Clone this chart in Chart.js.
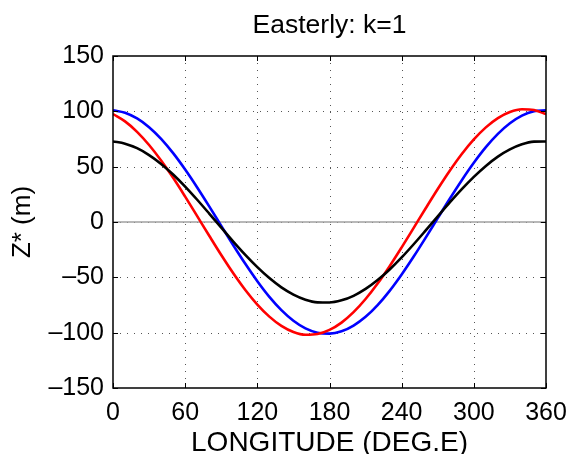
<!DOCTYPE html>
<html lang="en">
<head>
  <meta charset="UTF-8" />
  <title>Easterly: k=1</title>
  <script src="https://cdn.jsdelivr.net/npm/chart.js"></script>
  <style>
    html, body { margin: 0; padding: 0; background: #fff; }
    #wrap { width: 569px; height: 454px; }
  </style>
</head>
<body>
  <div id="wrap"><canvas id="chart" width="569" height="454"></canvas></div>

  <script>
    // longitude (deg E), every 10 degrees
    const lon = [0, 10, 20, 30, 40, 50, 60, 70, 80, 90, 100, 110, 120, 130, 140, 150, 160, 170, 180,
                 190, 200, 210, 220, 230, 240, 250, 260, 270, 280, 290, 300, 310, 320, 330, 340, 350, 360];

    // Z* (m)
    const blueZ = [101, 98.8, 93.6, 85.7, 75.1, 62.2, 47.4, 31.2, 14.1, -3.5, -21, -37.8, -53.5, -67.6, -79.6, -89.2, -96.1, -100, -100.9,
                   -98.8, -93.6, -85.7, -75.1, -62.2, -47.4, -31.2, -14.1, 3.5, 21, 37.8, 53.5, 67.6, 79.6, 89.2, 96.1, 100, 101];
    const redZ = [97.5, 90.9, 81.5, 69.6, 55.6, 39.9, 22.9, 5.3, -12.4, -29.8, -46.3, -61.4, -74.6, -85.5, -93.9, -99.4, -101.9, -101.2, -97.5,
                  -90.9, -81.5, -69.6, -55.6, -39.9, -22.9, -5.3, 12.4, 29.8, 46.3, 61.4, 74.6, 85.5, 93.9, 99.4, 101.9, 101.2, 97.5];
    const blackZ = [72.8, 70.8, 66.7, 60.5, 52.5, 42.9, 32, 20.1, 7.6, -5.1, -17.7, -29.7, -40.8, -50.7, -59.1, -65.6, -70.2, -72.6, -72.8,
                    -70.8, -66.7, -60.5, -52.5, -42.9, -32, -20.1, -7.6, 5.1, 17.7, 29.7, 40.8, 50.7, 59.1, 65.6, 70.2, 72.6, 72.8];

    const xTicks = [0, 60, 120, 180, 240, 300, 360];
    const yTicks = [-150, -100, -50, 0, 50, 100, 150];
    const zeroLine = [0, 0];
    const zeroLon = [0, 360];

    const FONT = "'Liberation Sans', Arial, Helvetica, sans-serif";

    const toPts = (xs, ys) => xs.map((x, i) => ({ x: x, y: ys[i] }));

    // matlab-style box: dotted grid, inward ticks, black frame, title
    const boxPlugin = {
      id: "box",
      beforeDatasetsDraw(chart) {
        const ctx = chart.ctx;
        const a = chart.chartArea;
        const xs = chart.scales.x, ys = chart.scales.y;
        ctx.save();
        ctx.strokeStyle = "#555";
        ctx.lineWidth = 1;
        ctx.setLineDash([1, 6]);
        xTicks.slice(1, -1).forEach(v => {
          const px = Math.round(xs.getPixelForValue(v)) + 0.5;
          ctx.beginPath(); ctx.moveTo(px, a.top); ctx.lineTo(px, a.bottom); ctx.stroke();
        });
        yTicks.slice(1, -1).forEach(v => {
          const py = Math.round(ys.getPixelForValue(v)) + 0.5;
          ctx.beginPath(); ctx.moveTo(a.left, py); ctx.lineTo(a.right, py); ctx.stroke();
        });
        ctx.restore();
      },
      afterDatasetsDraw(chart) {
        const ctx = chart.ctx;
        const a = chart.chartArea;
        const xs = chart.scales.x, ys = chart.scales.y;
        ctx.save();
        ctx.strokeStyle = "#000";
        ctx.lineWidth = 1.5;
        ctx.strokeRect(a.left, a.top, a.right - a.left, a.bottom - a.top);
        ctx.lineWidth = 1;
        const t = 5;
        xTicks.forEach(v => {
          const px = Math.round(xs.getPixelForValue(v)) + 0.5;
          ctx.beginPath();
          ctx.moveTo(px, a.bottom); ctx.lineTo(px, a.bottom - t);
          ctx.moveTo(px, a.top); ctx.lineTo(px, a.top + t);
          ctx.stroke();
        });
        yTicks.forEach(v => {
          const py = Math.round(ys.getPixelForValue(v)) + 0.5;
          ctx.beginPath();
          ctx.moveTo(a.left, py); ctx.lineTo(a.left + t, py);
          ctx.moveTo(a.right, py); ctx.lineTo(a.right - t, py);
          ctx.stroke();
        });
        ctx.fillStyle = "#000";
        ctx.font = "26.5px " + FONT;
        ctx.textAlign = "center";
        ctx.textBaseline = "middle";
        ctx.fillText("Easterly: k=1", (a.left + a.right) / 2, 26);
        ctx.restore();
      }
    };

    const ctx = document.getElementById("chart").getContext("2d");
    new Chart(ctx, {
      type: "line",
      data: {
        datasets: [
          { label: "black", data: toPts(lon, blackZ), borderColor: "#000", borderWidth: 2.6 },
          { label: "red", data: toPts(lon, redZ), borderColor: "#ff0000", borderWidth: 2.6 },
          { label: "blue", data: toPts(lon, blueZ), borderColor: "#0000ff", borderWidth: 2.6 },
          { label: "zero", data: toPts(zeroLon, zeroLine), borderColor: "#a0a0a0", borderWidth: 1.5, tension: 0 }
        ]
      },
      options: {
        responsive: false,
        animation: false,
        layout: { padding: { left: 0, right: 23, top: 56, bottom: 0 } },
        elements: {
          point: { radius: 0 },
          line: { tension: 0.4, cubicInterpolationMode: "monotone" }
        },
        plugins: {
          legend: { display: false },
          tooltip: { enabled: false },
          title: { display: false }
        },
        scales: {
          x: {
            type: "linear",
            min: 0,
            max: 360,
            afterFit: s => { s.height = 66; s.paddingLeft = 0; s.paddingRight = 0; },
            afterBuildTicks: s => { s.ticks = xTicks.map(v => ({ value: v })); },
            grid: { display: false, drawTicks: false },
            border: { display: false },
            ticks: { color: "#000", padding: 10, font: { family: FONT, size: 25 }, maxRotation: 0 },
            title: { display: true, text: "LONGITUDE (DEG.E)", color: "#000", padding: { top: 0, bottom: -6 }, font: { family: FONT, size: 28 } }
          },
          y: {
            min: -150,
            max: 150,
            afterFit: s => { s.width = 113; s.paddingTop = 0; s.paddingBottom = 0; },
            afterBuildTicks: s => { s.ticks = yTicks.map(v => ({ value: v })); },
            grid: { display: false, drawTicks: false },
            border: { display: false },
            ticks: {
              color: "#000",
              padding: 9,
              font: { family: FONT, size: 25 },
              callback: v => String(v).replace("-", "\u2013")
            },
            title: { display: true, text: "Z* (m)", color: "#000", padding: { top: 7, bottom: 0 }, font: { family: FONT, size: 26 } }
          }
        }
      },
      plugins: [boxPlugin]
    });
  </script>
</body>
</html>
